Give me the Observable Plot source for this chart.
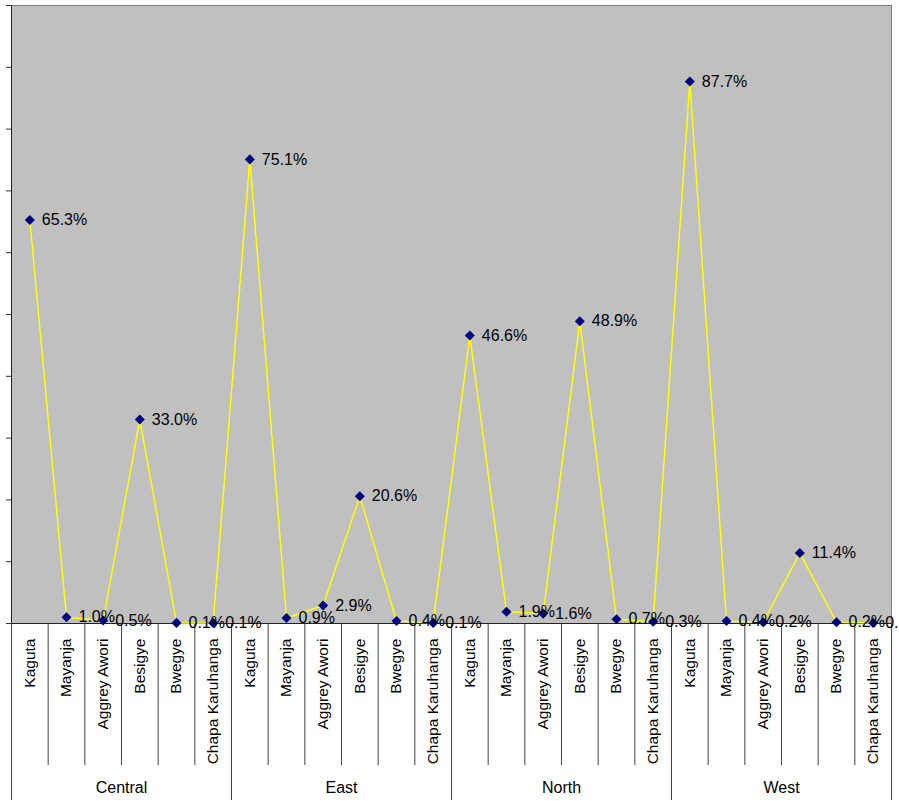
<!DOCTYPE html>
<html>
<head>
<meta charset="utf-8">
<script src="https://cdn.jsdelivr.net/npm/d3@7"></script>
<script src="https://cdn.jsdelivr.net/npm/@observablehq/plot@0.6"></script>
<style>
  html, body { margin: 0; padding: 0; background: #fff; }
  #chart svg { display: block; }
</style>
</head>
<body>
<div id="chart"></div>
<script>
const regions = ["Central", "East", "North", "West"];
const candidates = ["Kaguta", "Mayanja", "Aggrey Awori", "Besigye", "Bwegye", "Chapa Karuhanga"];
const central = [65.3, 1.0, 0.5, 33.0, 0.1, 0.1];
const east    = [75.1, 0.9, 2.9, 20.6, 0.4, 0.1];
const north   = [46.6, 1.9, 1.6, 48.9, 0.7, 0.3];
const west    = [87.7, 0.4, 0.2, 11.4, 0.2, 0.1];
const yTicks  = [0, 10, 20, 30, 40, 50, 60, 70, 80, 90, 100];

const series = [central, east, north, west];
const data = [];
regions.forEach((r, g) => {
  candidates.forEach((c, k) => {
    data.push({ i: g * candidates.length + k, region: r, candidate: c, value: series[g][k] });
  });
});
const n = data.length;
const inner = d3.range(n + 1).filter(i => i % candidates.length !== 0);
const outer = d3.range(0, n + 1, candidates.length);
const groups = regions.map((r, g) => ({ region: r, mid: g * candidates.length + candidates.length / 2 }));

const W = 899, H = 801, mT = 5, mB = 178;
const frameH = H - mT - mB;

const chart = Plot.plot({
  width: W,
  height: H,
  marginLeft: 11,
  marginRight: 8,
  marginTop: mT,
  marginBottom: mB,
  style: { fontFamily: "'Liberation Sans', Arial, sans-serif", background: "#fff", color: "#000", overflow: "visible" },
  x: { type: "linear", domain: [0, n], axis: null },
  y: { domain: [0, 100], axis: null },
  marks: [
    Plot.frame({ fill: "#c0c0c0", stroke: "#808080" }),
    Plot.axisY({ ticks: yTicks, tickFormat: () => "", tickSize: 5, stroke: "#333", label: null }),
    Plot.ruleX(inner, { x: d => d, insetTop: frameH, insetBottom: -142, stroke: "#444", strokeWidth: 1 }),
    Plot.ruleX(outer, { x: d => d, insetTop: frameH, insetBottom: -177, stroke: "#444", strokeWidth: 1 }),
    Plot.ruleX([0], { stroke: "#222" }),
    Plot.ruleY([0], { stroke: "#222" }),
    Plot.line(data, { x: d => d.i + 0.5, y: "value", stroke: "#ffff00", strokeWidth: 1.5 }),
    Plot.dot(data, { x: d => d.i + 0.5, y: "value", symbol: "square", rotate: 45, r: 4, fill: "#000080", stroke: "none" }),
    Plot.text(data, { x: d => d.i + 0.5, y: "value", text: d => d.value.toFixed(1) + "%", dx: 12, textAnchor: "start", fontSize: 16, fill: "#000" }),
    Plot.text(data, {
      x: d => d.i + 0.5, y: () => 0, text: "candidate",
      rotate: -90, textAnchor: "end", lineAnchor: "middle",
      dy: 15, fontSize: 15.5, fill: "#000"
    }),
    Plot.text(groups, { x: "mid", y: () => 0, text: "region", dy: 164, fontSize: 16, fill: "#000" })
  ]
});
document.getElementById("chart").appendChild(chart);
</script>
</body>
</html>
